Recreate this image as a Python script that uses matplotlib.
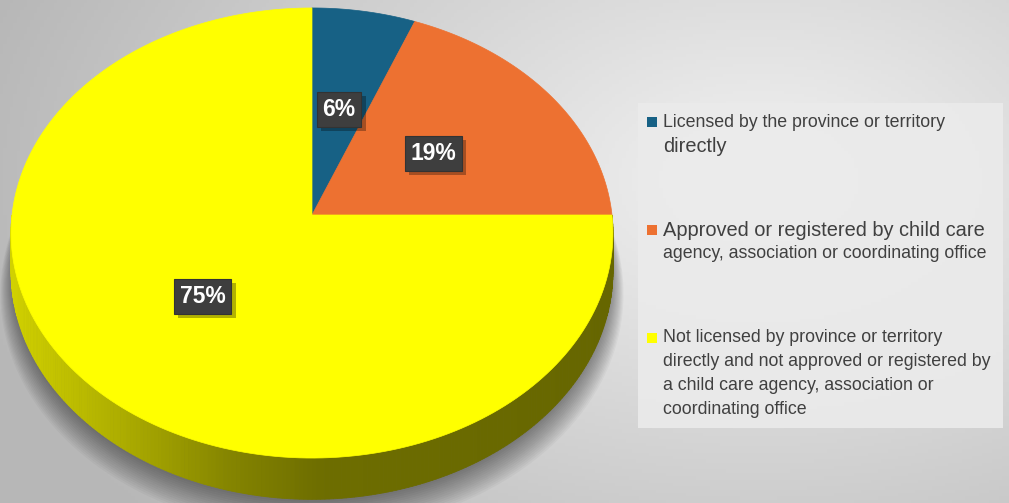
import numpy as np
import matplotlib.pyplot as plt
import matplotlib.patheffects as pe
from matplotlib.patches import Polygon, Rectangle

categories = ["Licensed by the province or territory directly",
              "Approved or registered by child care agency, association or coordinating office",
              "Not licensed by province or territory directly and not approved or registered by "
              "a child care agency, association or coordinating office"]
values = [6, 19, 75]
labels = ["6%", "19%", "75%"]
colors = ["#176185", "#ED7131", "#FFFF00"]

# legend text wrapped as in the source picture
legend_lines = [["Licensed by the province or territory", "directly"],
                ["Approved or registered by child care", "agency, association or coordinating office"],
                ["Not licensed by province or territory", "directly and not approved or registered by",
                 "a child care agency, association or", "coordinating office"]]
legend_sizes = [[12.8, 14.4], [14.4, 12.8], [12.8, 12.8, 12.8, 12.8]]

W, H = 1009, 503
cx, cy = 312, 215
A, B, k = 300, 223.6, 0.08
depth = 38


def proj(t, r=1.0, drop=0.0):
    # tilted disc with a touch of perspective, t clockwise from 12 o'clock
    u = r * np.sin(t)
    v = -r * np.cos(t)
    w = 1 - k * v
    return cx + A * u / w, cy + (B * v + drop) / w


fig = plt.figure(figsize=(W / 100, H / 100), dpi=100)
ax = fig.add_axes([0, 0, 1, 1])
ax.set_xlim(0, W)
ax.set_ylim(H, 0)
ax.axis("off")

# background radial gradient
gx, gy = np.meshgrid(np.linspace(0, W, 300), np.linspace(0, H, 150))
d = np.sqrt(((gx - 760) / 700) ** 2 + ((gy - 180) / 450) ** 2)
g = np.clip(0.95 - 0.2 * d, 0.72, 0.95)
ax.imshow(np.dstack([g, g, g]), extent=[0, W, H, 0], zorder=0, aspect="auto")

# soft shadow under the pie
tt = np.linspace(0, 2 * np.pi, 300)
for i in range(16):
    sx, sy = proj(tt, r=0.99 + 0.003 * i, drop=depth + 3 + 1.2 * i)
    ax.add_patch(Polygon(np.column_stack([sx, sy]), closed=True, fc="black",
                         ec="none", alpha=0.03, zorder=1))

# side wall (only the near half is visible)
bounds = np.concatenate([[0], np.cumsum(values)]) / sum(values) * 2 * np.pi
ts = np.linspace(np.pi / 2, 3 * np.pi / 2, 241)
for a, b in zip(ts[:-1], ts[1:]):
    idx = np.searchsorted(bounds, (a + b) / 2) - 1
    x1, y1 = proj(a)
    x2, y2 = proj(b)
    x3, y3 = proj(b, drop=depth)
    x4, y4 = proj(a, drop=depth)
    lev = np.interp((x1 + x2) / 2, [12, 120, 230, 320, 612], [0.82, 0.68, 0.52, 0.43, 0.40])
    base = np.array(plt.matplotlib.colors.to_rgb(colors[idx]))
    c = base * lev
    ax.add_patch(Polygon([[x1, y1], [x2, y2], [x3, y3], [x4, y4]], closed=True,
                         fc=c, ec=c, lw=0.6, zorder=2))

# top face slices
for i, (v0, v1) in enumerate(zip(bounds[:-1], bounds[1:])):
    t = np.linspace(v0, v1, 200)
    px, py = proj(t)
    ox, oy = proj(0, r=0)
    pts = np.column_stack([np.r_[ox, px], np.r_[oy, py]])
    ax.add_patch(Polygon(pts, closed=True, fc=colors[i], ec=colors[i], lw=0.5, zorder=3))

# data labels
for i, lab in enumerate(labels):
    mid = (bounds[i] + bounds[i + 1]) / 2
    lx, ly = proj(mid, r=0.5)
    txt = ax.text(lx, ly, lab, fontsize=16.5, fontweight="bold", family="Liberation Sans",
                  color="white", ha="center", va="center", zorder=5,
                  bbox=dict(boxstyle="square,pad=0.25", fc="#3e3e3e", ec="#333333", lw=0.8))
    txt.get_bbox_patch().set_path_effects(
        [pe.SimplePatchShadow(offset=(3, -3), shadow_rgbFace="black", alpha=0.3), pe.Normal()])

# legend
ax.add_patch(Rectangle((638, 103), 365, 325, fc="#ebebeb", ec="none", alpha=0.9, zorder=3))
item_y = [122, 230, 338]
for i, lines in enumerate(legend_lines):
    ax.add_patch(Rectangle((647, item_y[i] - 5), 10, 10, fc=colors[i], ec="none", zorder=4))
    for j, (line, fs) in enumerate(zip(lines, legend_sizes[i])):
        ax.text(663, item_y[i] + 24 * j, line, fontsize=fs, family="Liberation Sans",
                color="#404040", ha="left", va="center", zorder=4)

fig.savefig("out.png", dpi=100)
